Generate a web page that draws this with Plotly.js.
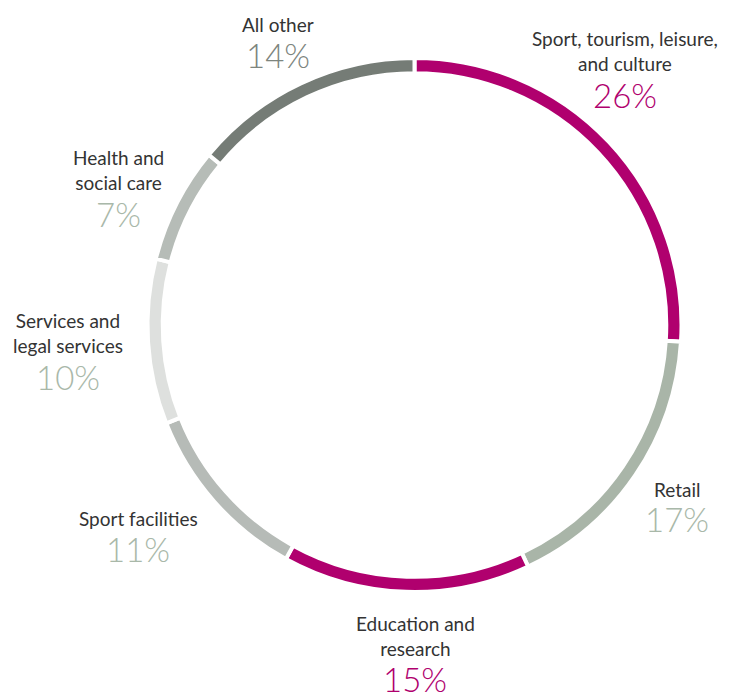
<!DOCTYPE html>
<html><head><meta charset="utf-8">
<script src="https://cdn.plot.ly/plotly-3.0.1.min.js"></script>
<style>html,body{margin:0;padding:0;background:#fff}#chart{width:730px;height:693px}</style>
</head><body><div id="chart"></div>
<script>
const categories = ["Sport, tourism, leisure, and culture","Retail","Education and research","Sport facilities","Services and legal services","Health and social care","All other"];
const values = [26,17,15,11,10,7,14];
const sliceColors = ["#B0006E","#A9B5A8","#B0006E","#B6BBB7","#DEE0DE","#B6BCB7","#757C76"];
const labelLines = ["Sport, tourism, leisure,<br>and culture","Retail","Education and<br>research","Sport facilities","Services and<br>legal services","Health and<br>social care","All other"];
const pctColors = ["#B0006E","#A9B8A9","#B0006E","#A9B8A9","#A9B8A9","#A9B8A9","#7D857E"];
// label anchor positions in px (x center, y of label block center, y of pct center)
const labelPos = [[625,51,95],[677,489,519],[415,636,679],[138,518,549],[68,333,377],[118,170,214],[278,24,55]];

const W=730,H=693, cx=414.5, cy=325, R=267;
const annotations=[];
labelPos.forEach((p,i)=>{
  annotations.push({xref:'paper',yref:'paper',x:p[0]/W,y:1-p[1]/H,xanchor:'center',yanchor:'middle',
    text:labelLines[i],showarrow:false,align:'center',font:{family:'Lato',size:19,color:'#333333'}});
  annotations.push({xref:'paper',yref:'paper',x:p[0]/W,y:1-p[2]/H,xanchor:'center',yanchor:'middle',
    text:values[i]+'%',showarrow:false,font:{family:'Lato',size:33,color:pctColors[i],weight:300}});
});

Plotly.newPlot('chart',[{
  type:'pie', labels:categories, values:values, sort:false, direction:'clockwise', rotation:0,
  hole:0.943, textinfo:'none', hoverinfo:'label+percent',
  marker:{colors:sliceColors,line:{color:'#ffffff',width:4}},
  domain:{x:[(cx-R)/W,(cx+R)/W], y:[1-(cy+R)/H,1-(cy-R)/H]}
}],{
  width:W,height:H,margin:{l:0,r:0,t:0,b:0},showlegend:false,
  paper_bgcolor:'#ffffff',annotations:annotations
},{displayModeBar:false,staticPlot:true});
</script></body></html>
